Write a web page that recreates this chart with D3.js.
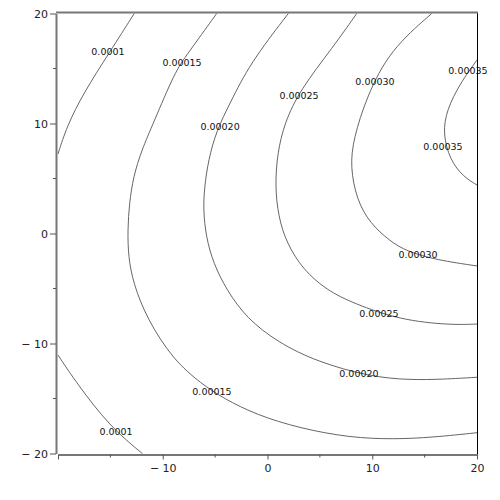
<!DOCTYPE html>
<html>
<head>
<meta charset="utf-8">
<script src="https://cdn.jsdelivr.net/npm/d3@7"></script>
<style>
  body { margin: 0; background: #fff; }
  text { font-family: "DejaVu Sans", sans-serif; }
</style>
</head>
<body>
<div id="chart"></div>
<script>
var levels = ["0.0001", "0.00015", "0.00020", "0.00025", "0.00030", "0.00035"];

var c0001a = [[-12.72, 20], [-15.04, 16.53], [-17.58, 12.75], [-19.17, 9.71], [-20, 7.23]];
var c0001b = [[-20, -11.05], [-18.21, -13.62], [-15.04, -17.56], [-11.95, -20]];
var c00015 = [[-4.85, 20], [-7.71, 16.23], [-8.83, 14.71], [-10.9, 10.02],
  [-12.01, 7.59], [-12.81, 5.16], [-13.19, 2.75], [-13.35, 0.32], [-13.29, -2.11],
  [-12.81, -4.53], [-11.53, -7.71], [-8.99, -11.5], [-6.28, -13.68],
  [-4.22, -14.98], [-1.03, -16.5], [3.1, -17.71], [7.88, -18.56], [12.01, -18.71],
  [15.83, -18.53], [20, -18.11]];
var c00020 = [[1.99, 20], [-1.67, 15.47], [-3.58, 11.84], [-4.85, 9.41],
  [-5.65, 6.68], [-6.03, 4.11], [-6.13, 2.14], [-5.87, -0.29], [-5.17, -2.71],
  [-3.9, -5.14], [-1.99, -7.71], [1.0, -9.9], [4.7, -11.65],
  [9.79, -13.02], [13.6, -13.32], [16.78, -13.25], [20, -13.07]];
var c00025 = [[8.52, 20], [6.28, 16.98], [3.1, 13.05],
  [1.6, 10.0], [0.95, 7.3], [0.72, 4.41], [1.03, 1.53], [1.83, -0.89],
  [3.42, -3.32], [5.65, -5.14], [8.19, -6.35], [12.65, -7.86],
  [17.42, -8.32], [20, -8.23]];
var c00030 = [[15.68, 20], [11.69, 16.68], [9.47, 12.44], [8.2, 8.6],
  [7.9, 6.07], [8.52, 3.05], [9.79, 0.93], [11.69, -0.7], [13.29, -1.62],
  [16.15, -2.41], [20, -2.95]];
var c00035 = [[20, 15.77], [18.38, 13.65], [17.11, 11.23], [16.73, 9.11], [17.42, 6.68],
  [18.69, 5.16], [20, 4.41]];

var curves = [c0001a, c0001b, c00015, c00020, c00025, c00030, c00035];

// label text and where it sits (data units)
var labelText = ["0.0001", "0.00015", "0.00020", "0.00025", "0.00030", "0.00035",
  "0.00035", "0.00030", "0.00025", "0.00020", "0.00015", "0.0001"];
var labelX = [-15.23, -8.16, -4.53, 3.01, 10.26, 19.14, 16.75, 14.37, 10.64, 8.73, -5.3, -14.46];
var labelY = [16.5, 15.5, 9.68, 12.5, 13.77, 14.77, 7.86, -1.95, -7.32, -12.77, -14.41, -18.05];

var majorTicks = [-20, -10, 0, 10, 20];
var minorTicks = [-15, -5, 5, 15];

var width = 500, height = 500;

var x = d3.scaleLinear().domain([-20, 20]).range([58, 477]);
var y = d3.scaleLinear().domain([-20, 20]).range([453.5, 13.5]);

var svg = d3.select("#chart").append("svg")
    .attr("width", width)
    .attr("height", height);

svg.append("clipPath").attr("id", "plot")
  .append("rect")
    .attr("x", 56).attr("y", 12.5)
    .attr("width", 422).attr("height", 442);

// B-spline smooths out the jitter of hand-read points
var line = d3.line()
    .x(function(d) { return x(d[0]); })
    .y(function(d) { return y(d[1]); })
    .curve(d3.curveBasis);

svg.append("g").attr("clip-path", "url(#plot)")
  .selectAll("path").data(curves).enter().append("path")
    .attr("d", line)
    .attr("fill", "none")
    .attr("stroke", "#555")
    .attr("stroke-width", 0.9);

svg.append("g").selectAll("text").data(labelText).enter().append("text")
    .attr("x", function(d, i) { return x(labelX[i]); })
    .attr("y", function(d, i) { return y(labelY[i]); })
    .attr("dy", "0.35em")
    .attr("text-anchor", "middle")
    .attr("font-size", "9.5px")
    .attr("fill", "#111")
    .text(function(d) { return d; });

// frame: grey left, top and bottom, thin black right
svg.append("line").attr("x1", 477.5).attr("x2", 477.5).attr("y1", 12.5).attr("y2", 454.5)
    .attr("stroke", "#000").attr("stroke-width", 1);
svg.append("line").attr("x1", 56).attr("x2", 478).attr("y1", 12.5).attr("y2", 12.5)
    .attr("stroke", "#777").attr("stroke-width", 2);

function fmt(d) { return d < 0 ? "\u2212 " + (-d) : String(d); }

// the -20 at the corner is only labelled on the y axis
var xAxis = d3.axisBottom(x).tickValues(majorTicks).tickSize(5).tickSizeOuter(0)
    .tickFormat(function(d) { return d === -20 ? "" : fmt(d); });
var gx = svg.append("g").attr("transform", "translate(0,454.5)").call(xAxis);
gx.selectAll(".tick line").attr("stroke", "#555");
gx.selectAll(".tick text").attr("font-size", "11px").attr("fill", "#222")
    .attr("font-family", "DejaVu Sans").attr("dy", "0.9em");
gx.select(".domain").attr("stroke", "#777").attr("stroke-width", 2);
gx.selectAll(".minor").data(minorTicks).enter().append("line")
    .attr("x1", function(d) { return x(d); }).attr("x2", function(d) { return x(d); })
    .attr("y1", 0).attr("y2", 3).attr("stroke", "#555");

var yAxis = d3.axisLeft(y).tickValues(majorTicks).tickSize(6).tickSizeOuter(0)
    .tickFormat(fmt);
var gy = svg.append("g").attr("transform", "translate(56,0)").call(yAxis);
gy.selectAll(".tick line").attr("stroke", "#555");
gy.selectAll(".tick text").attr("font-size", "11px").attr("fill", "#222")
    .attr("font-family", "DejaVu Sans").attr("x", -8);
gy.select(".domain").attr("stroke", "#777").attr("stroke-width", 2);
gy.selectAll(".minor").data(minorTicks).enter().append("line")
    .attr("y1", function(d) { return y(d); }).attr("y2", function(d) { return y(d); })
    .attr("x1", 0).attr("x2", -3).attr("stroke", "#555");
</script>
</body>
</html>
